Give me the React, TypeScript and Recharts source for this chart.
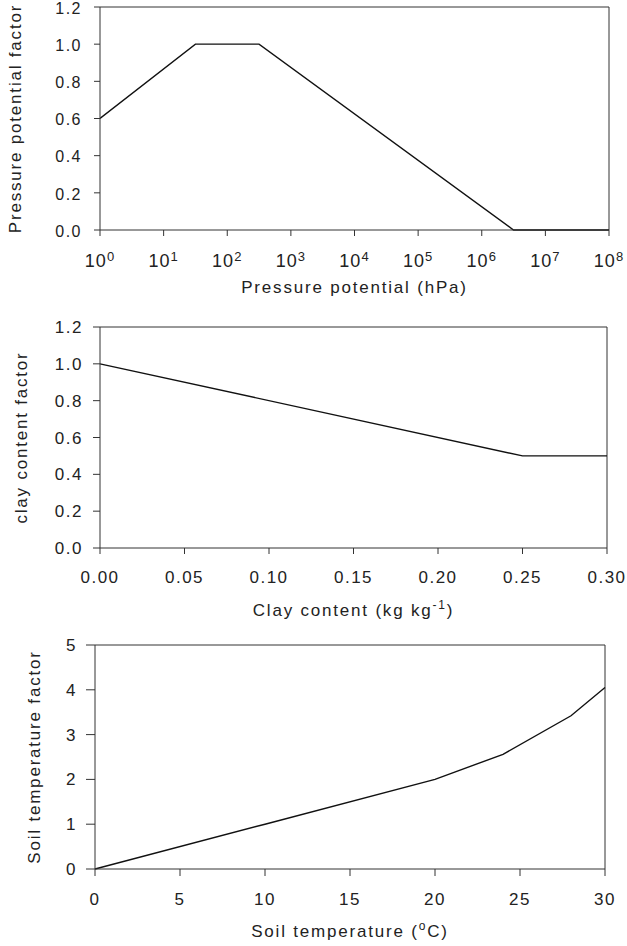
import React from "react";
import { LineChart, Line, XAxis, YAxis, ReferenceLine } from "recharts";

const FONT = "'Liberation Sans', Arial, sans-serif";
const INK = "#222";
const AXIS = "#333";

// pressure potential (hPa) vs factor
const pressureX = [1, 31.6, 316, 3160000, 100000000];
const pressureY = [0.6, 1.0, 1.0, 0, 0];
const pressureTicks = [1, 10, 100, 1000, 10000, 100000, 1000000, 10000000, 100000000];
const factorTicks = [0, 0.2, 0.4, 0.6, 0.8, 1.0, 1.2];

// clay content vs factor
const clayX = [0, 0.25, 0.3];
const clayY = [1.0, 0.5, 0.5];
const clayTicks = [0, 0.05, 0.1, 0.15, 0.2, 0.25, 0.3];

// soil temperature vs factor
const tempX = [0, 10, 20, 24, 28, 30];
const tempY = [0, 1.0, 2.0, 2.56, 3.42, 4.05];
const tempXTicks = [0, 5, 10, 15, 20, 25, 30];
const tempYTicks = [0, 1, 2, 3, 4, 5];

const zip = (xs: number[], ys: number[]) => xs.map((x, i) => ({ x, y: ys[i] }));

const tickStyle = { fill: INK, fontSize: 17, fontFamily: FONT, letterSpacing: 1.5 };
const titleStyle = { fill: INK, fontSize: 17, fontFamily: FONT, letterSpacing: 1.8 };

const yTitle = (text: string, bx: number) => (props: any) => {
  const vb = props.viewBox;
  const cy = vb.y + vb.height / 2;
  return (
    <text x={bx} y={cy} transform={`rotate(-90 ${bx} ${cy})`} textAnchor="middle" style={titleStyle}>
      {text}
    </text>
  );
};

const xTitle = (content: React.ReactNode, dy: number) => (props: any) => {
  const vb = props.viewBox;
  return (
    <text x={vb.x + vb.width / 2} y={vb.y + dy} textAnchor="middle" style={titleStyle}>
      {content}
    </text>
  );
};

function PowerTick(props: any) {
  const { x, y, payload } = props;
  const exp = Math.round(Math.log10(payload.value));
  return (
    <text x={x} y={y + 14} textAnchor="middle" style={{ ...tickStyle, fontSize: 18, letterSpacing: 1 }}>
      <tspan>10</tspan>
      <tspan dy={-6} fontSize={13}>{exp}</tspan>
    </text>
  );
}

export default function App() {
  return (
    <div style={{ position: "absolute", left: 0, top: 0, width: 627, height: 946, background: "#fff" }}>
      <div style={{ position: "absolute", left: 0, top: 0 }}>
        <LineChart width={627} height={310} data={zip(pressureX, pressureY)} margin={{ top: 7, right: 18, bottom: 0, left: 0 }}>
          <XAxis
            type="number"
            dataKey="x"
            scale="log"
            domain={[1, 100000000]}
            ticks={pressureTicks}
            interval={0}
            allowDataOverflow
            height={80}
            stroke={AXIS}
            tickSize={6}
            tickMargin={17}
            tick={<PowerTick />}
            label={xTitle("Pressure potential (hPa)", 63)}
          />
          <YAxis
            type="number"
            dataKey="y"
            domain={[0, 1.2]}
            ticks={factorTicks}
            interval={0}
            width={100}
            stroke={AXIS}
            tickSize={6}
            tickMargin={12}
            tick={{ ...tickStyle, fontSize: 16, dy: 1 }}
            tickFormatter={(v: number) => v.toFixed(1)}
            label={yTitle("Pressure potential factor", 20.5)}
          />
          <ReferenceLine y={1.2} stroke={AXIS} />
          <ReferenceLine x={100000000} stroke={AXIS} />
          <Line type="linear" dataKey="y" stroke="#111" strokeWidth={1.4} dot={false} isAnimationActive={false} />
        </LineChart>
      </div>

      <div style={{ position: "absolute", left: 0, top: 310 }}>
        <LineChart width={627} height={320} data={zip(clayX, clayY)} margin={{ top: 17, right: 20, bottom: 0, left: 0 }}>
          <XAxis
            type="number"
            dataKey="x"
            domain={[0, 0.3]}
            ticks={clayTicks}
            interval={0}
            height={82}
            stroke={AXIS}
            tickSize={6}
            tickMargin={17}
            tick={tickStyle}
            tickFormatter={(v: number) => v.toFixed(2)}
            label={xTitle(
              <>
                Clay content (kg kg
                <tspan dy={-7} fontSize={12}>-1</tspan>
                <tspan dy={7}>)</tspan>
              </>,
              68
            )}
          />
          <YAxis
            type="number"
            dataKey="y"
            domain={[0, 1.2]}
            ticks={factorTicks}
            interval={0}
            width={100}
            stroke={AXIS}
            tickSize={7}
            tickMargin={10}
            tick={tickStyle}
            tickFormatter={(v: number) => v.toFixed(1)}
            label={yTitle("clay content factor", 26.5)}
          />
          <ReferenceLine y={1.2} stroke={AXIS} />
          <ReferenceLine x={0.3} stroke={AXIS} />
          <Line type="linear" dataKey="y" stroke="#111" strokeWidth={1.4} dot={false} isAnimationActive={false} />
        </LineChart>
      </div>

      <div style={{ position: "absolute", left: 0, top: 630 }}>
        <LineChart width={627} height={316} data={zip(tempX, tempY)} margin={{ top: 15, right: 22, bottom: 0, left: 0 }}>
          <XAxis
            type="number"
            dataKey="x"
            domain={[0, 30]}
            ticks={tempXTicks}
            interval={0}
            height={77}
            stroke={AXIS}
            tickSize={7}
            tickMargin={17}
            tick={tickStyle}
            label={xTitle(
              <>
                Soil temperature (
                <tspan dy={-7} fontSize={12}>o</tspan>
                <tspan dy={7}>C)</tspan>
              </>,
              68
            )}
          />
          <YAxis
            type="number"
            dataKey="y"
            domain={[0, 5]}
            ticks={tempYTicks}
            interval={0}
            width={95}
            stroke={AXIS}
            tickSize={9}
            tickMargin={9}
            tick={tickStyle}
            label={yTitle("Soil temperature factor", 40)}
          />
          <ReferenceLine y={5} stroke={AXIS} />
          <ReferenceLine x={30} stroke={AXIS} />
          <Line type="linear" dataKey="y" stroke="#111" strokeWidth={1.4} dot={false} isAnimationActive={false} />
        </LineChart>
      </div>
    </div>
  );
}
